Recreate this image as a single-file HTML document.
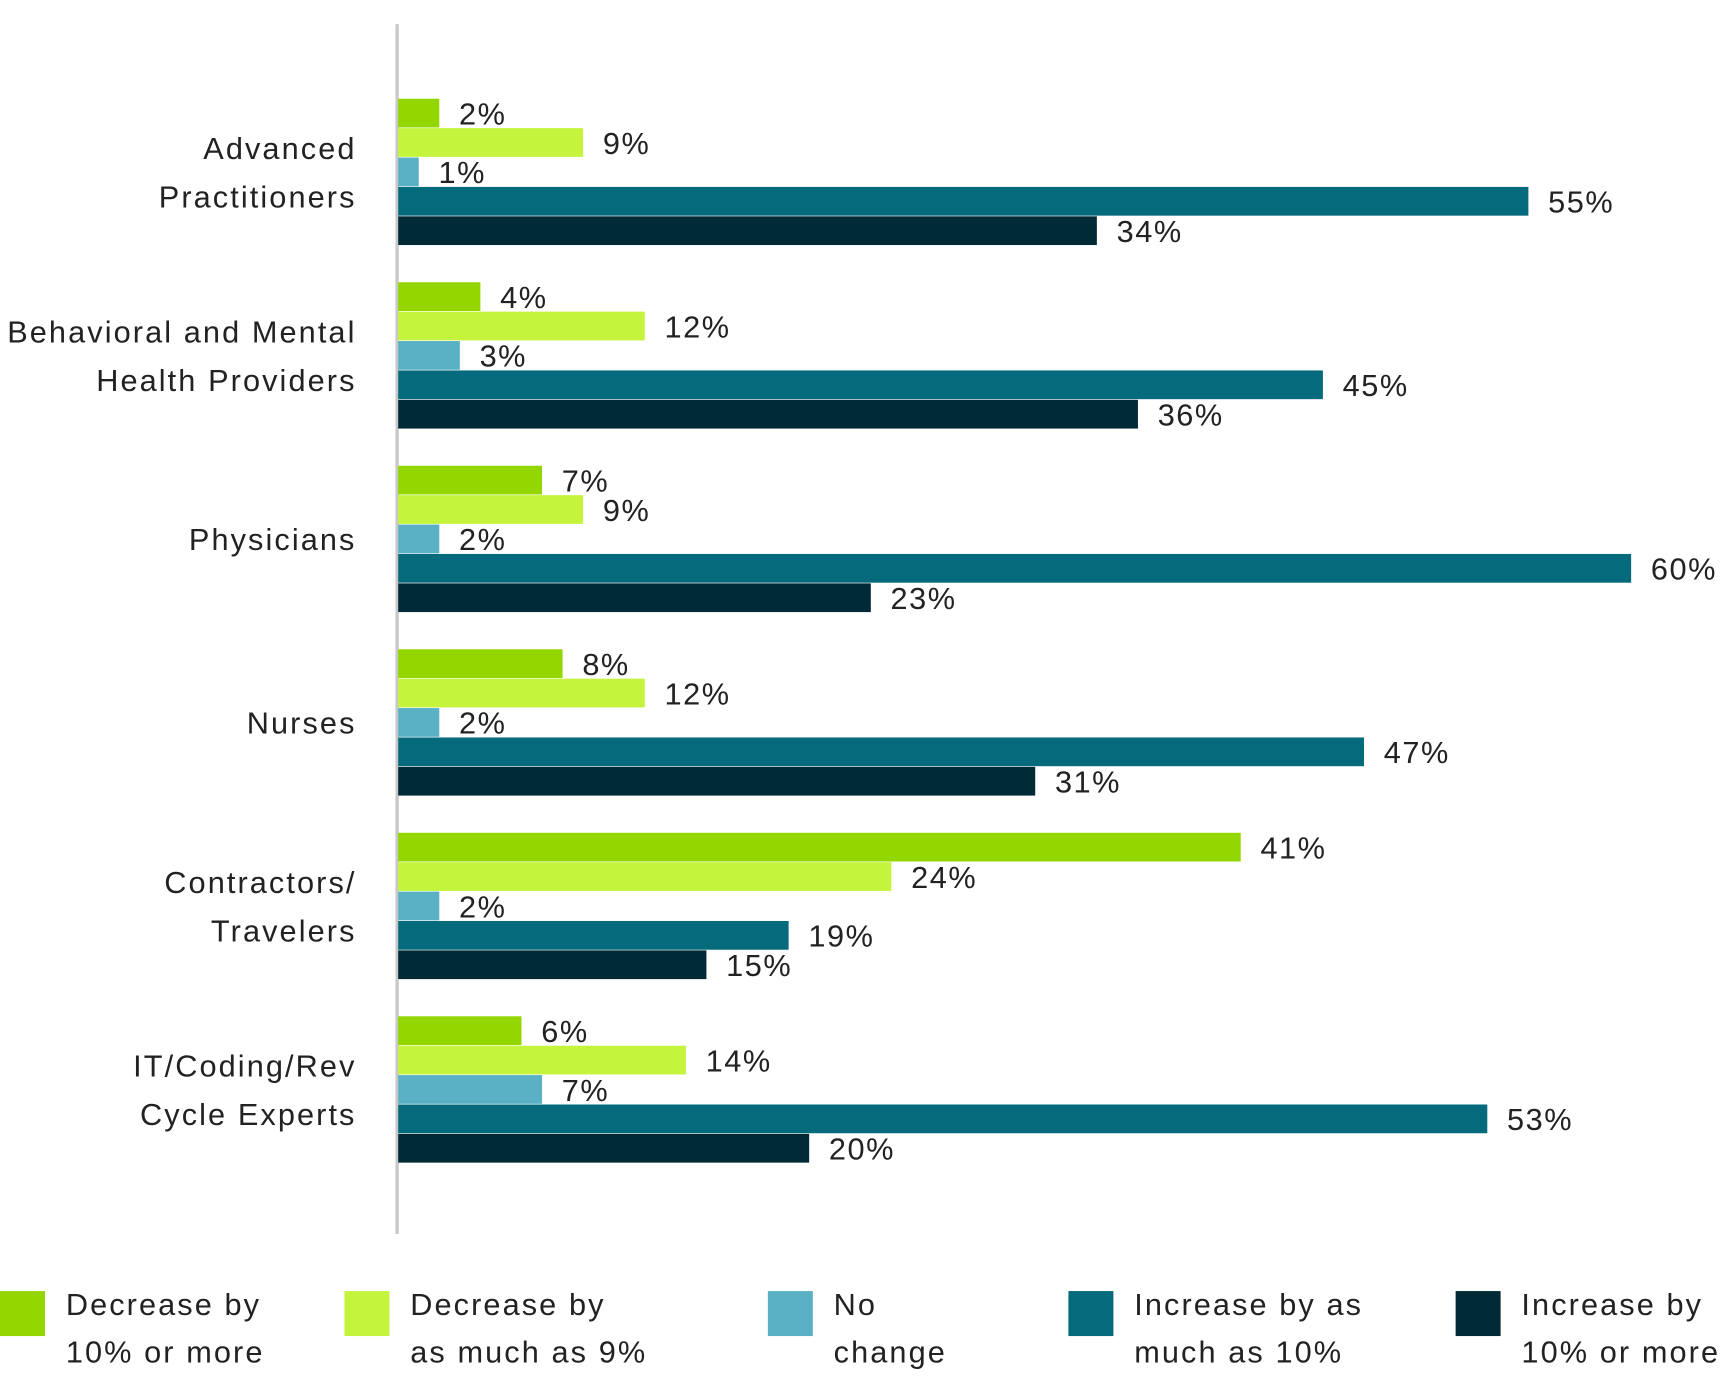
<!DOCTYPE html>
<html><head><meta charset="utf-8"><style>
html,body{margin:0;padding:0;background:#fff;}
svg{display:block;font-family:"Liberation Sans",sans-serif;}
</style></head><body>
<svg id="chart" width="1720" height="1392" viewBox="0 0 1568 1269" xmlns="http://www.w3.org/2000/svg">
<line x1="362" y1="22" x2="362" y2="1125" stroke="#c8c8c8" stroke-width="3"/>
<g id="bars"></g>
<g id="legend"></g>
</svg>
<script>
const categories = [["Advanced","Practitioners"],["Behavioral and Mental","Health Providers"],["Physicians"],["Nurses"],["Contractors/","Travelers"],["IT/Coding/Rev","Cycle Experts"]];
const seriesNames = [["Decrease by","10% or more"],["Decrease by","as much as 9%"],["No","change"],["Increase by as","much as 10%"],["Increase by","10% or more"]];
const decrease10 = [2,4,7,8,41,6];
const decrease9 = [9,12,9,12,24,14];
const noChange = [1,3,2,2,2,7];
const increase10 = [55,45,60,47,19,53];
const increaseMore = [34,36,23,31,15,20];
const series = [decrease10, decrease9, noChange, increase10, increaseMore];
const colors = ["#94d600","#c4f53c","#5ab1c6","#046a7c","#002b36"];

const NS = "http://www.w3.org/2000/svg";
const x0 = 363, pxPer = 1124/60;
const xScale = v => x0 + v*pxPer;
const groupTop = i => 90 + i*167.3;
const barH = 26.8;
const g = document.getElementById('bars');
function mk(tag, attrs, text){const e=document.createElementNS(NS,tag);for(const k in attrs)e.setAttribute(k,attrs[k]);if(text!=null)e.textContent=text;return e;}
categories.forEach((cat, i) => {
  const top = groupTop(i);
  const cy = top + barH*2.5;
  const t = mk('text', {x:325, 'text-anchor':'end', 'font-size':28, 'letter-spacing':1.9, fill:'#222'});
  
  
  cat.forEach((line, li) => {
    const ts = mk('tspan', {x:325, y: cy + 10 + (li - (cat.length-1)/2)*44}, line);
    t.appendChild(ts);
  });
  g.appendChild(t);
  series.forEach((s, j) => {
    const y = top + j*barH;
    const r = mk('rect', {x:x0, y:y, width:xScale(s[i])-x0, height:barH-0.6, fill:colors[j]});
    
    
    g.appendChild(r);
    const l = mk('text', {x:xScale(s[i])+18, y:y+barH/2+10, 'font-size':28, 'letter-spacing':1.4, fill:'#222'}, s[i]+'%');
    
    
    g.appendChild(l);
  });
});
const legendX = [0,314,700,974,1327];
const lg = document.getElementById('legend');
seriesNames.forEach((n, j) => {
  const r = mk('rect', {x:legendX[j], y:1177, width:41, height:41, fill:colors[j]});
  
  
  lg.appendChild(r);
  const t = mk('text', {'font-size':28, 'letter-spacing':1.9, fill:'#222'});
  
  
  n.forEach((line, li) => t.appendChild(mk('tspan', {x:legendX[j]+60, y:1199+li*43}, line)));
  lg.appendChild(t);
});
</script>
</body></html>
